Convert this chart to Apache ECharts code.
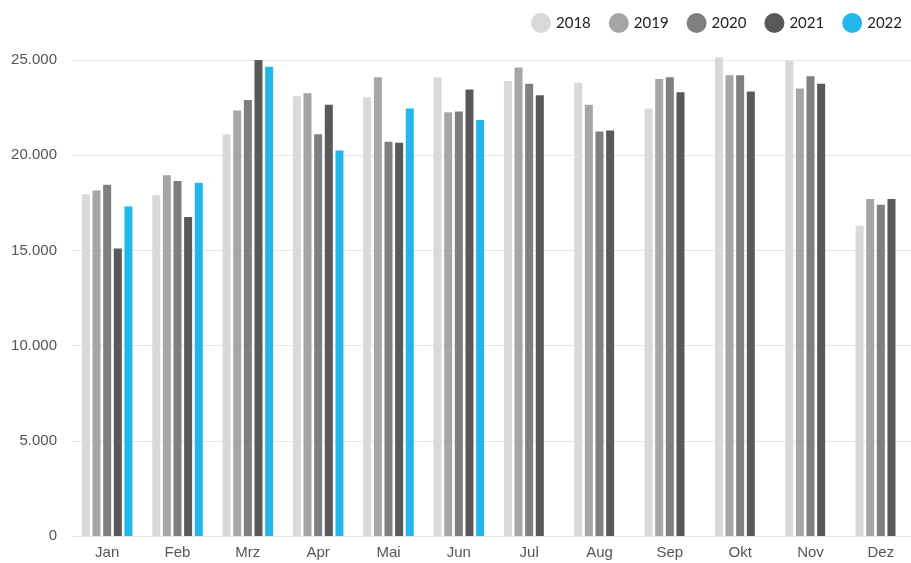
<!DOCTYPE html>
<html>
<head>
<meta charset="utf-8">
<script src="https://cdn.jsdelivr.net/npm/echarts@6/dist/echarts.min.js"></script>
<style>
  html, body { margin: 0; padding: 0; background: #fff; }
  #chart { width: 911px; height: 563px; }
</style>
</head>
<body>
<div id="chart"></div>
<script>
// Monthly values per year
const months = ['Jan', 'Feb', 'Mrz', 'Apr', 'Mai', 'Jun', 'Jul', 'Aug', 'Sep', 'Okt', 'Nov', 'Dez'];
const years = ['2018', '2019', '2020', '2021', '2022'];
const values2018 = [17950, 17900, 21100, 23100, 23050, 24100, 23900, 23800, 22450, 25150, 24950, 16300];
const values2019 = [18150, 18950, 22350, 23250, 24100, 22250, 24600, 22650, 24000, 24200, 23500, 17700];
const values2020 = [18450, 18650, 22900, 21100, 20700, 22300, 23750, 21250, 24100, 24200, 24150, 17400];
const values2021 = [15100, 16750, 25000, 22650, 20650, 23450, 23150, 21300, 23300, 23350, 23750, 17700];
const values2022 = [17300, 18550, 24650, 20250, 22450, 21850, null, null, null, null, null, null];
const yTicks = [0, 5000, 10000, 15000, 20000, 25000];
const colors = ['#d9d9d9', '#a6a6a6', '#7f7f7f', '#595959', '#22b7ea'];

const seriesValues = [values2018, values2019, values2020, values2021, values2022];

const fmt = v => String(v).replace(/\B(?=(\d{3})+(?!\d))/g, '.');

const chart = echarts.init(document.getElementById('chart'), null, { renderer: 'canvas' });
chart.setOption({
  animation: false,
  color: colors,
  textStyle: { fontFamily: 'Liberation Sans, Arial, sans-serif' },
  legend: {
    left: 526,
    top: 8,
    width: 440,
    icon: 'circle',
    itemWidth: 20,
    itemHeight: 20,
    itemGap: 18,
    textStyle: { fontSize: 15, color: '#222', fontFamily: 'Lato, sans-serif' },
    data: years
  },
  grid: { left: 72, right: -5, top: 60, bottom: 27, containLabel: false, outerBoundsMode: 'none' },
  xAxis: {
    type: 'category',
    data: months,
    axisTick: { show: false },
    axisLine: { lineStyle: { color: '#e2e2e2' } },
    axisLabel: { color: '#555', fontSize: 15, margin: 9 }
  },
  yAxis: {
    type: 'value',
    min: yTicks[0],
    max: yTicks[yTicks.length - 1],
    interval: yTicks[1] - yTicks[0],
    axisLine: { show: false },
    axisTick: { show: false },
    splitLine: { lineStyle: { color: '#e6e6e6' } },
    axisLabel: { color: '#555', fontSize: 15, margin: 15, formatter: fmt }
  },
  series: years.map((y, i) => ({
    name: y,
    type: 'bar',
    data: seriesValues[i],
    barWidth: 8,
    barGap: '33%',
    clip: false,
    itemStyle: { color: colors[i] }
  }))
});
</script>
</body>
</html>
